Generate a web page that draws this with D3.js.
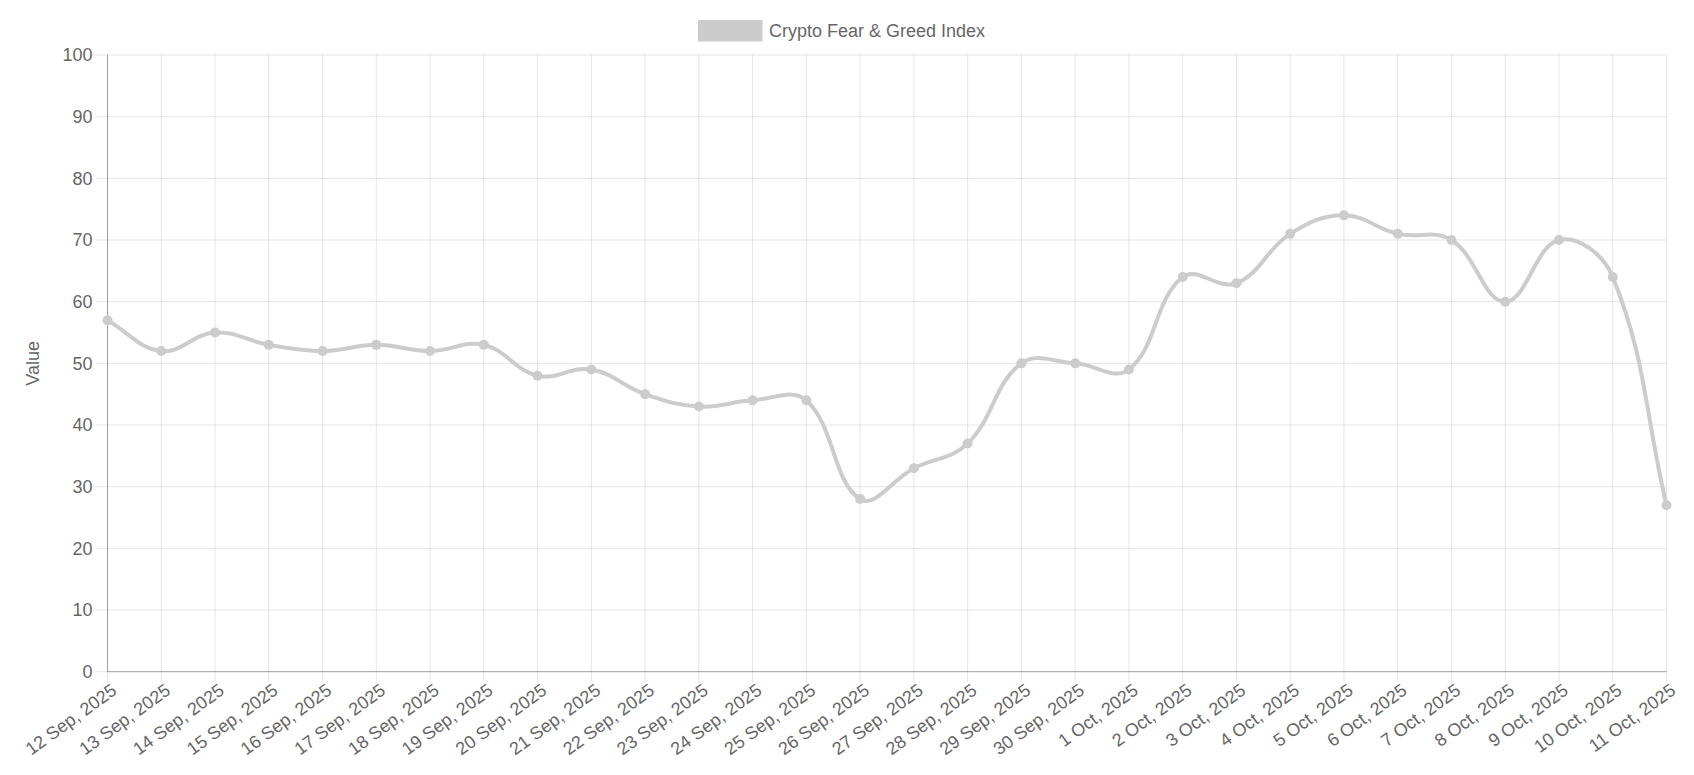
<!DOCTYPE html>
<html>
<head>
<meta charset="utf-8">
<script src="https://cdn.jsdelivr.net/npm/d3@7"></script>
<style>
  body { margin: 0; background: #fff; }
  text { font-family: "Liberation Sans", Arial, sans-serif; fill: #666; }
</style>
</head>
<body>
<div id="chart"></div>
<script>
// data
var dates = ["12 Sep, 2025", "13 Sep, 2025", "14 Sep, 2025", "15 Sep, 2025", "16 Sep, 2025",
  "17 Sep, 2025", "18 Sep, 2025", "19 Sep, 2025", "20 Sep, 2025", "21 Sep, 2025",
  "22 Sep, 2025", "23 Sep, 2025", "24 Sep, 2025", "25 Sep, 2025", "26 Sep, 2025",
  "27 Sep, 2025", "28 Sep, 2025", "29 Sep, 2025", "30 Sep, 2025", "1 Oct, 2025",
  "2 Oct, 2025", "3 Oct, 2025", "4 Oct, 2025", "5 Oct, 2025", "6 Oct, 2025",
  "7 Oct, 2025", "8 Oct, 2025", "9 Oct, 2025", "10 Oct, 2025", "11 Oct, 2025"];
var values = [57, 52, 55, 53, 52, 53, 52, 53, 48, 49,
  45, 43, 44, 44, 28, 33, 37, 50, 50, 49,
  64, 63, 71, 74, 71, 70, 60, 70, 64, 27];
var yTicks = [0, 10, 20, 30, 40, 50, 60, 70, 80, 90, 100];
var seriesName = "Crypto Fear & Greed Index";

// set the dimensions and margins of the graph
var W = 1694, H = 775;
var margin = {top: 55, right: 27.5, bottom: 103.3, left: 107.5},
    width = W - margin.left - margin.right,
    height = H - margin.top - margin.bottom;

var lineColor = "#cccccc";
var gridColor = "rgba(0,0,0,0.1)";
var fontSize = "18px";

var svg = d3.select("#chart")
  .append("svg")
    .attr("width", W)
    .attr("height", H);

var g = svg.append("g")
    .attr("transform", "translate(" + margin.left + "," + margin.top + ")");

// scales
var x = d3.scalePoint()
  .domain(dates)
  .range([0, width]);
var y = d3.scaleLinear()
  .domain([0, 100])
  .range([height, 0]);

// grid lines (horizontal) + tick marks
g.append("g")
  .selectAll("line")
  .data(yTicks)
  .enter()
  .append("line")
    .attr("x1", -12)
    .attr("x2", width)
    .attr("y1", d => y(d))
    .attr("y2", d => y(d))
    .attr("stroke", gridColor)
    .attr("stroke-width", 1);

// grid lines (vertical) + tick marks
g.append("g")
  .selectAll("line")
  .data(dates)
  .enter()
  .append("line")
    .attr("x1", d => x(d))
    .attr("x2", d => x(d))
    .attr("y1", 0)
    .attr("y2", height + 11)
    .attr("stroke", gridColor)
    .attr("stroke-width", 1);

// axis lines
g.append("line")
  .attr("x1", 0).attr("x2", 0)
  .attr("y1", 0).attr("y2", height)
  .attr("stroke", "rgba(0,0,0,0.3)");
g.append("line")
  .attr("x1", 0).attr("x2", width)
  .attr("y1", height).attr("y2", height)
  .attr("stroke", "rgba(0,0,0,0.3)");

// y tick labels
g.append("g")
  .selectAll("text")
  .data(yTicks)
  .enter()
  .append("text")
    .attr("x", -15)
    .attr("y", d => y(d))
    .attr("dy", "0.35em")
    .attr("text-anchor", "end")
    .attr("font-size", fontSize)
    .text(d => d);

// x tick labels, rotated
g.append("g")
  .selectAll("text")
  .data(dates)
  .enter()
  .append("text")
    .attr("transform", d => "translate(" + (x(d) + 3) + "," + (height + 11) + ") rotate(-36)")
    .attr("text-anchor", "end")
    .attr("dy", "0.7em")
    .attr("font-size", fontSize)
    .text(d => d);

// y axis title
g.append("text")
  .attr("transform", "rotate(-90)")
  .attr("x", -height / 2)
  .attr("y", 33 - margin.left)
  .attr("dy", "0.35em")
  .attr("text-anchor", "middle")
  .attr("font-size", fontSize)
  .text("Value");

// legend
var legend = svg.append("g");
legend.append("rect")
  .attr("x", 698)
  .attr("y", 20)
  .attr("width", 64.5)
  .attr("height", 21.5)
  .attr("fill", lineColor);
legend.append("text")
  .attr("x", 769)
  .attr("y", 31)
  .attr("dy", "0.35em")
  .attr("font-size", fontSize)
  .text(seriesName);

// spline like Chart.js (tension 0.4)
var pts = values.map((v, i) => ({x: x(dates[i]), y: y(v)}));
var tension = 0.4;
var cps = pts.map((p, i) => {
  var prev = pts[Math.max(i - 1, 0)], next = pts[Math.min(i + 1, pts.length - 1)];
  var d01 = Math.hypot(p.x - prev.x, p.y - prev.y);
  var d12 = Math.hypot(next.x - p.x, next.y - p.y);
  var s01 = d01 / (d01 + d12) || 0, s12 = d12 / (d01 + d12) || 0;
  var fa = tension * s01, fb = tension * s12;
  var clampY = v => Math.max(0, Math.min(height, v));
  return {
    px: p.x - fa * (next.x - prev.x), py: clampY(p.y - fa * (next.y - prev.y)),
    nx: p.x + fb * (next.x - prev.x), ny: clampY(p.y + fb * (next.y - prev.y))
  };
});
var path = d3.path();
path.moveTo(pts[0].x, pts[0].y);
for (var i = 1; i < pts.length; i++) {
  path.bezierCurveTo(cps[i - 1].nx, cps[i - 1].ny, cps[i].px, cps[i].py, pts[i].x, pts[i].y);
}

g.append("path")
  .attr("d", path.toString())
  .attr("fill", "none")
  .attr("stroke", lineColor)
  .attr("stroke-width", 4)
  .attr("stroke-linejoin", "round");

// dots
g.append("g")
  .selectAll("circle")
  .data(values)
  .enter()
  .append("circle")
    .attr("cx", (d, i) => x(dates[i]))
    .attr("cy", d => y(d))
    .attr("r", 5)
    .style("fill", lineColor);
</script>
</body>
</html>
